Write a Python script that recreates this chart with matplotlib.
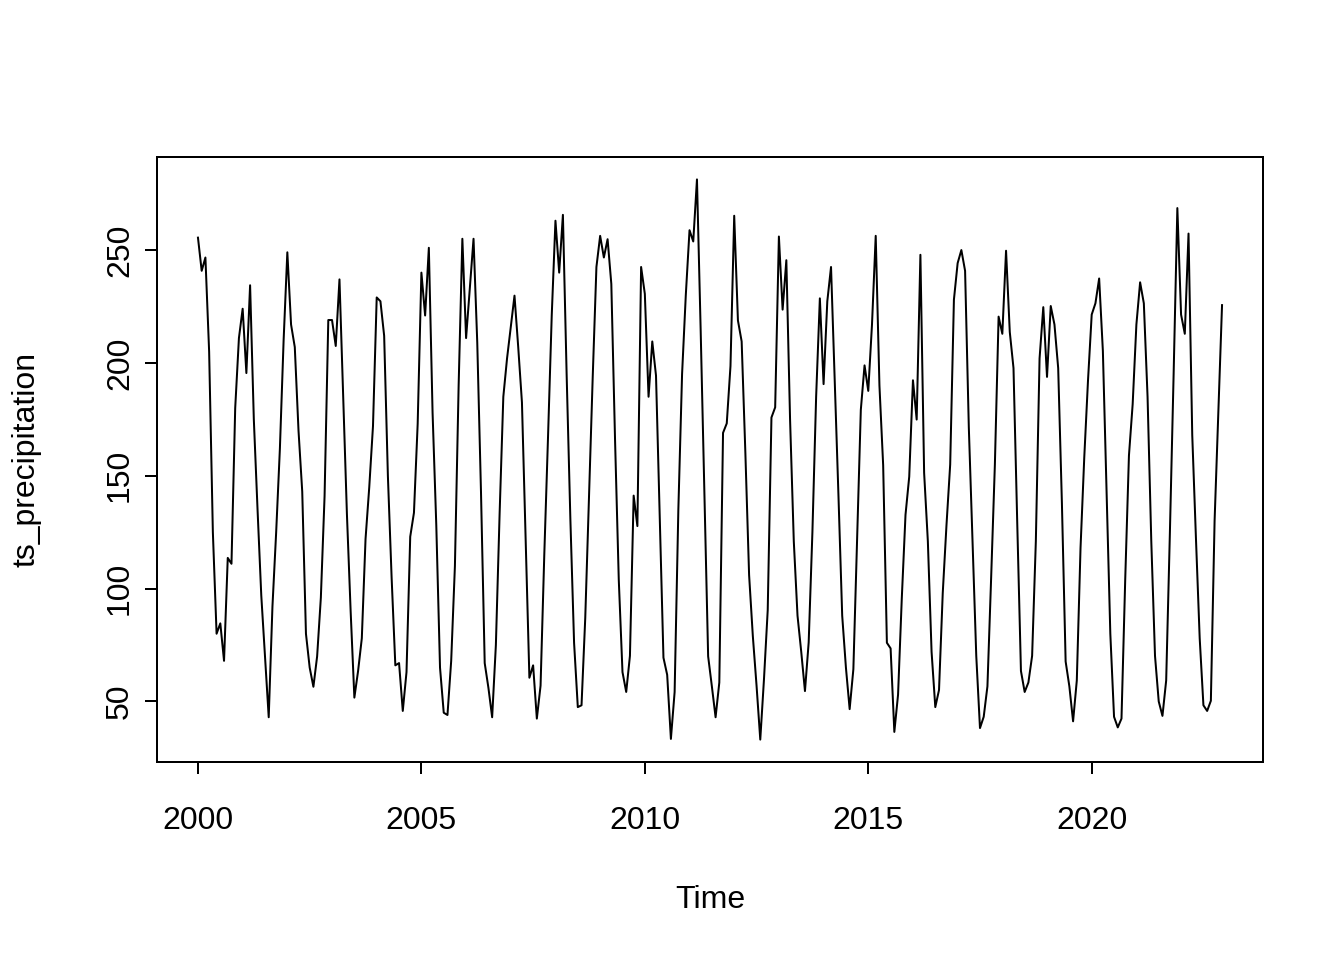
import matplotlib
matplotlib.use("Agg")
import matplotlib.pyplot as plt
import numpy as np

plt.rcParams['font.family'] = ['Liberation Sans', 'DejaVu Sans']

start_year = 2000
freq = 12
ts_precipitation = [
    # 2000
    255.5, 240.8, 246.7, 205, 125, 80, 84.6, 68, 113.6, 111, 180, 211,
    # 2001
    224, 195.5, 234.4, 175, 135, 97, 70, 43, 92, 125, 162, 210,
    # 2002
    249, 217, 207, 170, 143, 80, 65, 56.5, 70, 96, 141, 219,
    # 2003
    219, 207.5, 237, 185, 133, 90, 51.7, 63.5, 78, 122, 145, 172,
    # 2004
    229, 227.3, 212, 150, 105, 66, 67, 45.8, 63, 123, 133.6, 173,
    # 2005
    240, 221, 251, 178, 128, 65, 45, 44, 68, 110, 190, 255,
    # 2006
    211, 233, 255, 209, 143, 67, 56, 43, 75, 133, 185, 202,
    # 2007
    216, 229.8, 207, 182.5, 121, 60.5, 66, 42.4, 57, 115, 167, 221,
    # 2008
    263, 240, 265.6, 195, 131, 76, 47.5, 48.3, 87, 141, 193.5, 242.5,
    # 2009
    256.3, 246.7, 254.8, 235, 166, 104, 63, 54.2, 70.2, 141.2, 127.7, 242.5,
    # 2010
    230.6, 185, 209.5, 194.4, 131, 69.4, 61.8, 33.4, 54.2, 135, 195, 230,
    # 2011
    258.8, 253.8, 281.3, 214, 141, 70, 56.7, 43, 58.4, 169, 173.2, 198.6,
    # 2012
    265.2, 218.8, 209.5, 160, 106, 79, 57, 33.1, 60, 90.5, 175.8, 180.3,
    # 2013
    256, 223.6, 245.5, 175, 121, 88, 72, 54.6, 76.2, 125, 185, 228.6,
    # 2014
    190.6, 227.3, 242.5, 192, 141, 88, 65, 46.6, 64.3, 121, 179.2, 198.9,
    # 2015
    187.6, 217, 256.3, 190, 154.7, 76, 73.5, 36.5, 53, 95.6, 132.7, 149.6,
    # 2016
    192.3, 174.9, 247.9, 151.3, 121, 72, 47.5, 55.1, 98, 128, 155, 228,
    # 2017
    244.2, 250, 240.8, 171.5, 121, 70.2, 38.2, 43.2, 56.7, 105, 155, 220.5,
    # 2018
    212.9, 249.7, 213.7, 197.7, 129.4, 63.5, 54.2, 58.4, 70.2, 121, 202, 224.7,
    # 2019
    193.8, 225.2, 217, 197.7, 137.8, 67.7, 56.7, 41.2, 59.3, 118, 158, 192,
    # 2020
    221.4, 226.4, 237.4, 205.3, 142.8, 80, 43.2, 38.5, 42.4, 104, 158.9, 181.7,
    # 2021
    217, 235.7, 226.4, 185, 121, 70.2, 50, 43.6, 59.3, 125, 195, 268.6,
    # 2022
    221.4, 212.9, 257.3, 168, 122, 78, 48.3, 45.8, 50.3, 130, 178, 225.6,
]
x_ticks = [2000, 2005, 2010, 2015, 2020]
y_ticks = [50, 100, 150, 200, 250]
x_label = "Time"
y_label = "ts_precipitation"

values = np.array(ts_precipitation)
time = start_year + np.arange(len(values)) / freq

fig = plt.figure(figsize=(1344 / 144, 960 / 144), dpi=144)
ax = fig.add_axes([157 / 1344, 1 - 762 / 960, (1263 - 157) / 1344, (762 - 157) / 960])
ax.plot(time, values, color='black', linewidth=1.0)

# R-style 4% axis extension
xr = time.max() - time.min()
yr = values.max() - values.min()
ax.set_xlim(time.min() - 0.04 * xr, time.max() + 0.04 * xr)
ax.set_ylim(values.min() - 0.04 * yr, values.max() + 0.04 * yr)

ax.set_xticks(x_ticks)
ax.set_xticklabels([str(t) for t in x_ticks])
ax.set_yticks(y_ticks)
ax.set_yticklabels([str(t) for t in y_ticks], rotation=90, va='center')

for s in ax.spines.values():
    s.set_linewidth(1.0)
    s.set_color('black')
ax.tick_params(axis='both', direction='out', length=6, width=1.0, labelsize=16, colors='black')
ax.tick_params(axis='x', pad=16)
ax.tick_params(axis='y', pad=5)

ax.set_xlabel(x_label, fontsize=16)
ax.set_ylabel(y_label, fontsize=16)
ax.xaxis.set_label_coords(0.5, (762 - 900) / 605)
ax.xaxis.label.set_va('center')
ax.yaxis.set_label_coords((27 - 157) / 1106, 0.5)
ax.yaxis.label.set_va('center')

fig.savefig("out.png", dpi=144)
